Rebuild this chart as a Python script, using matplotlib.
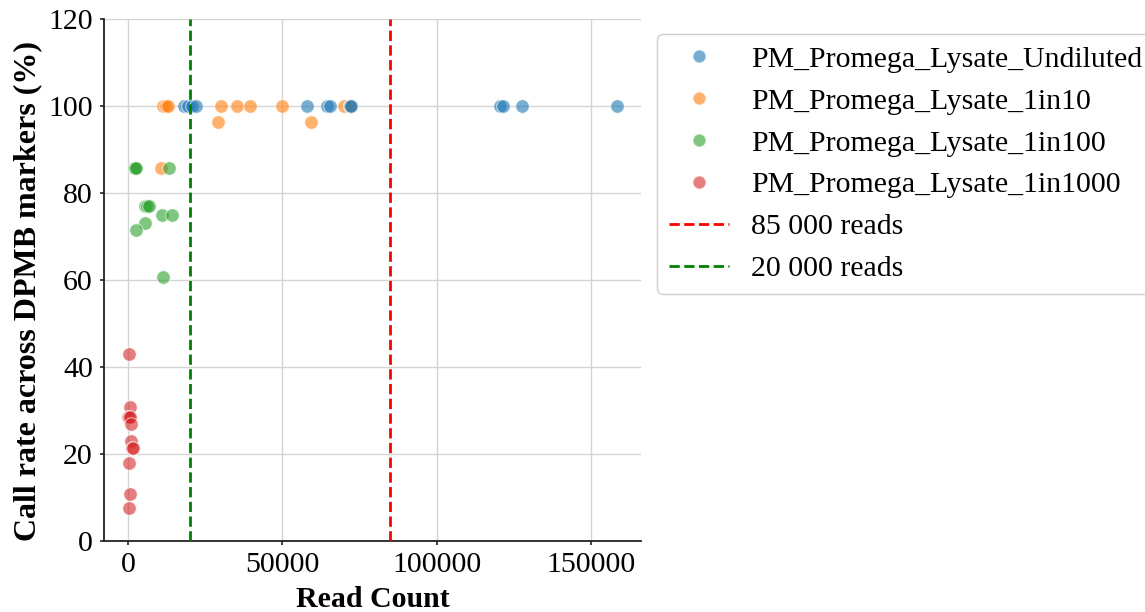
import matplotlib
matplotlib.use("Agg")
import matplotlib.pyplot as plt
from matplotlib.lines import Line2D

plt.rcParams["font.family"] = ["Liberation Serif", "DejaVu Serif"]

# Read count and call rate per sample, grouped by dilution
undiluted_reads = [18200, 19500, 20800, 22100, 57800, 64300, 65300, 72000, 72300,
                   120500, 121400, 127600, 158400]
undiluted_rate = [100, 100, 100, 100, 100, 100, 100, 100, 100, 100, 100, 100, 100]

d10_reads = [10700, 11400, 12300, 12800, 29200, 29900, 35400, 39600, 50000,
             59100, 69800, 71800]
d10_rate = [85.7, 100, 100, 100, 96.4, 100, 100, 100, 100, 96.4, 100, 100]

d100_reads = [1900, 2300, 2600, 13300, 5500, 6200, 6800, 10900, 14300, 5500,
              2600, 11400]
d100_rate = [85.7, 85.7, 85.7, 85.7, 76.9, 76.9, 76.9, 75.0, 75.0, 73.1,
             71.4, 60.7]

d1000_reads = [200, 600, 0, 200, 400, 700, 900, 1100, 1500, 300, 600, 100]
d1000_rate = [42.9, 30.8, 28.6, 28.6, 28.6, 26.9, 23.1, 21.4, 21.4, 17.9,
              10.7, 7.7]

series_names = ["PM_Promega_Lysate_Undiluted", "PM_Promega_Lysate_1in10",
                "PM_Promega_Lysate_1in100", "PM_Promega_Lysate_1in1000"]
series_colors = ["#1f77b4", "#ff7f0e", "#2ca02c", "#d62728"]

threshold_high = 85000
threshold_low = 20000

fig = plt.figure(figsize=(11.45, 6.12), dpi=100)
ax = fig.add_axes([104 / 1145, 71 / 612, 537 / 1145, 522 / 612])

ax.set_axisbelow(True)
ax.grid(True, color="#d4d4d4", linewidth=1.0)

point_kw = dict(s=95, alpha=0.6, edgecolors="white", linewidths=0.8, zorder=2)
ax.scatter(d10_reads, d10_rate, color=series_colors[1], **point_kw)
ax.scatter(undiluted_reads, undiluted_rate, color=series_colors[0], **point_kw)
ax.scatter(d100_reads, d100_rate, color=series_colors[2], **point_kw)
ax.scatter(d1000_reads, d1000_rate, color=series_colors[3], **point_kw)

ax.axvline(threshold_high, color="red", linestyle="--", linewidth=2, zorder=3)
ax.axvline(threshold_low, color="green", linestyle="--", linewidth=2, zorder=3)

ax.set_xlim(-7900, 166300)
ax.set_ylim(0, 120)
ax.set_xticks([0, 50000, 100000, 150000])
ax.set_yticks([0, 20, 40, 60, 80, 100, 120])
ax.tick_params(axis="both", labelsize=21.5, length=3, width=1.2, color="#222222",
               pad=5)

for side in ("top", "right"):
    ax.spines[side].set_visible(False)
for side in ("left", "bottom"):
    ax.spines[side].set_linewidth(1.3)
    ax.spines[side].set_color("#222222")

ax.set_xlabel("Read Count", fontsize=21.5, fontweight="bold", labelpad=6)
ax.set_ylabel("Call rate across DPMB markers (%)", fontsize=23,
              fontweight="bold", labelpad=4)
ax.yaxis.label.set_y(0.479)

handles = [Line2D([], [], linestyle="none", marker="o", markersize=9.5,
                  markerfacecolor=c, markeredgecolor="white", alpha=0.6)
           for c in series_colors]
handles += [Line2D([], [], color="red", linestyle="--", linewidth=2),
            Line2D([], [], color="green", linestyle="--", linewidth=2)]
labels = series_names + [f"{threshold_high:,} reads".replace(",", " "),
                         f"{threshold_low:,} reads".replace(",", " ")]

fig.legend(handles, labels, loc="upper left",
           bbox_to_anchor=(657 / 1145, 1 - 34 / 612), borderaxespad=0,
           fontsize=21.5, frameon=True, edgecolor="#d0d0d0", framealpha=1,
           fancybox=True, labelspacing=0.5, handlelength=2.0,
           handletextpad=0.75, borderpad=0.4)

fig.savefig("out.png", dpi=100)
